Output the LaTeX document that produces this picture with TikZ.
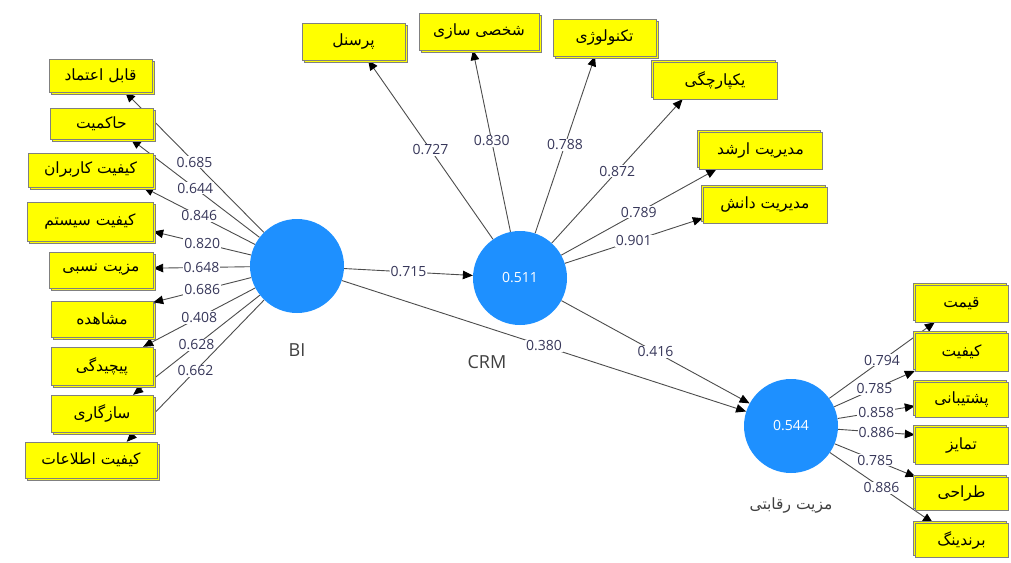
\documentclass[tikz,border=0pt]{standalone}
\usepackage{fontspec}
\setmainfont{Open Sans}
\newfontfamily\fafont[Script=Arabic]{DejaVu Sans}
\TeXXeTstate=1
\usetikzlibrary{arrows.meta,shadows,backgrounds}
\definecolor{lvblue}{RGB}{30,144,255}
\definecolor{boxyellow}{RGB}{255,255,0}
\definecolor{numcol}{RGB}{55,55,90}
\newcommand{\fa}[1]{\beginR #1\endR}

\tikzset{
  box/.style={draw=black!50, fill=boxyellow, inner sep=0pt,
    font=\fafont\fontsize{15.5}{17}\selectfont},
  shl/.style={copy shadow={shadow xshift=2pt, shadow yshift=-2pt}},
  shr/.style={copy shadow={shadow xshift=-2pt, shadow yshift=2pt}},
  lv/.style={circle, fill=lvblue, minimum size=94pt, inner sep=0pt,
    text=white, font=\fontsize{14}{16}\selectfont},
  lvname/.style={text=black!75, font=\fontsize{18}{20}\selectfont},
  arr/.style={draw=black!70, line width=0.9pt,
    -{Triangle[length=10pt,width=8.5pt,black]}},
  load/.style={midway, fill=white, inner sep=1pt, text=numcol,
    font=\fontsize{14}{16}\selectfont}
}

\begin{document}
\begin{tikzpicture}[x=1pt, y=-1pt]
    \useasboundingbox (0,0) rectangle (1011,562);

    % latent variables
    \node[lv] (BI) at (297,266) {};
    \node[lv] (CRM) at (520,278) {0.511};
    \node[lv] (CA) at (791,426) {0.544};
    \node[lvname] (BIname) at (297,350) {BI};
    \node[lvname] (CRMname) at (487,362) {CRM};
    \node[lvname, font=\fafont\fontsize{15.5}{17}\selectfont] (CAname) at (791,505) {\fa{مزیت رقابتی}};

    % BI indicators
    \node[box, shl, minimum width=103pt, minimum height=33pt] (r1) at (100.5,75.5) {\fa{قابل اعتماد}};
    \node[box, shl, minimum width=103pt, minimum height=31pt] (r2) at (101.5,123.5) {\fa{حاکمیت}};
    \node[box, shl, minimum width=125pt, minimum height=34pt] (r3) at (90.5,170) {\fa{کیفیت کاربران}};
    \node[box, shl, minimum width=126pt, minimum height=39pt] (r4) at (90,221.5) {\fa{کیفیت سیستم}};
    \node[box, shl, minimum width=104pt, minimum height=36pt] (r5) at (101,270) {\fa{مزیت نسبی}};
    \node[box, shl, minimum width=102pt, minimum height=36pt] (r6) at (102,319) {\fa{مشاهده}};
    \node[box, shl, minimum width=102pt, minimum height=38pt] (r7) at (102,366) {\fa{پیچیدگی}};
    \node[box, shl, minimum width=102pt, minimum height=37pt] (r8) at (102,413.5) {\fa{سازگاری}};
    \node[box, shl, minimum width=132pt, minimum height=36pt] (r9) at (91,460) {\fa{کیفیت اطلاعات}};

    % CRM indicators
    \node[box, shl, minimum width=103pt, minimum height=37pt] (t1) at (353.5,41.5) {\fa{پرسنل}};
    \node[box, shl, minimum width=120pt, minimum height=37pt] (t2) at (479,31.5) {\fa{شخصی سازی}};
    \node[box, shl, minimum width=103pt, minimum height=37pt] (t3) at (604.5,37.5) {\fa{تکنولوژی}};
    \node[box, shr, minimum width=124pt, minimum height=37pt] (t4) at (715,80.5) {\fa{یکپارچگی}};
    \node[box, shr, minimum width=123pt, minimum height=37pt] (t5) at (760.5,150.5) {\fa{مدیریت ارشد}};
    \node[box, shr, minimum width=124pt, minimum height=36pt] (t6) at (765,205) {\fa{مدیریت دانش}};

    % competitive advantage indicators
    \node[box, shr, minimum width=93pt, minimum height=37pt] (q1) at (961.5,303.5) {\fa{قیمت}};
    \node[box, shr, minimum width=93pt, minimum height=38pt] (q2) at (961.5,352) {\fa{کیفیت}};
    \node[box, shr, minimum width=93pt, minimum height=35pt] (q3) at (961.5,399.5) {\fa{پشتیبانی}};
    \node[box, shr, minimum width=93pt, minimum height=37pt] (q4) at (961.5,445.5) {\fa{تمایز}};
    \node[box, shr, minimum width=93pt, minimum height=33pt] (q5) at (961.5,493.5) {\fa{طراحی}};
    \node[box, shr, minimum width=93pt, minimum height=34pt] (q6) at (961.5,540) {\fa{برندینگ}};

    \begin{pgfonlayer}{background}
    % outer loadings
    \foreach \b/\a/\v in {r1/-34/0.685, r2/-28/0.644, r3/-18/0.846, r4/-9/0.820, r5/2/0.648,
                          r6/18/0.686, r7/25/0.408, r8/31/0.628, r9/27/0.662}
        \draw[arr] (BI) -- (\b.\a) node[load]{\v};
    \foreach \b/\a/\v in {t1/-52/0.727, t2/-108/0.830, t3/-117/0.788, t4/-150/0.872,
                          t5/-157/0.789, t6/-168/0.901}
        \draw[arr] (CRM) -- (\b.\a) node[load]{\v};
    \foreach \b/\a/\v in {q1/-145/0.794, q2/-158/0.785, q3/-172/0.858, q4/167/0.886,
                          q5/160/0.785, q6/149/0.886}
        \draw[arr] (CA) -- (\b.\a) node[load]{\v};

    % path coefficients
    \draw[arr] (BI) -- (CRM) node[load]{0.715};
    \draw[arr] (BI) -- (CA) node[load]{0.380};
    \draw[arr] (CRM) -- (CA) node[load]{0.416};
    \end{pgfonlayer}

\end{tikzpicture}
\end{document}
